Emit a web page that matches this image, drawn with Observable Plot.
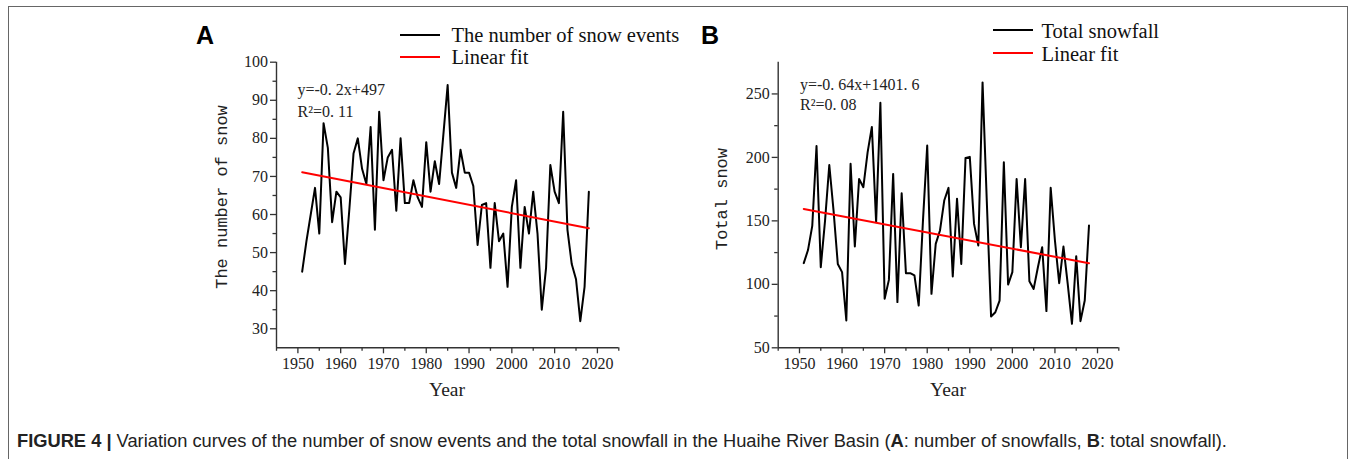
<!DOCTYPE html>
<html>
<head>
<meta charset="utf-8">
<script src="https://cdn.jsdelivr.net/npm/d3@7"></script>
<script src="https://cdn.jsdelivr.net/npm/@observablehq/plot@0.6"></script>
<style>
  html, body { margin: 0; padding: 0; background: #fff; }
  #root { position: relative; width: 1356px; height: 459px; overflow: hidden; background: #fff; }
  .abs { position: absolute; white-space: nowrap; line-height: 1; }
  .serif { font-family: "Liberation Serif", "DejaVu Serif", serif; color: #111; }
  .mono { font-family: "Liberation Mono", "DejaVu Sans Mono", monospace; color: #222; }
  .vc { transform: translateY(-50%); }
  .leg { position: absolute; height: 2px; width: 40px; }
  .panel { position: absolute; top: 0; }
</style>
</head>
<body>
<div id="root">
  <div class="abs" style="left:8px;top:6px;width:1340px;height:470px;border:1.5px solid #666;box-sizing:border-box;"></div>

  <div class="abs" style="left:196px;top:35px;transform:translateY(-50%);font:bold 25px 'Liberation Sans', Arial, sans-serif;color:#000;">A</div>
  <div class="abs" style="left:701px;top:35px;transform:translateY(-50%);font:bold 25px 'Liberation Sans', Arial, sans-serif;color:#000;">B</div>

  <div id="panelA" class="panel" style="left:200px;"></div>
  <div id="panelB" class="panel" style="left:700px;"></div>

  <!-- legends -->
  <div class="leg" style="left:400px;top:34px;background:#000;"></div>
  <div class="abs serif vc" style="left:451.5px;top:35px;font-size:20.5px;">The number of snow events</div>
  <div class="leg" style="left:400px;top:56px;background:#ff0000;"></div>
  <div class="abs serif vc" style="left:451.5px;top:57px;font-size:20.5px;">Linear fit</div>

  <div class="leg" style="left:993px;top:29px;background:#000;"></div>
  <div class="abs serif vc" style="left:1041.5px;top:31px;font-size:20.5px;">Total snowfall</div>
  <div class="leg" style="left:993px;top:52px;background:#ff0000;"></div>
  <div class="abs serif vc" style="left:1041.5px;top:54px;font-size:20.5px;">Linear fit</div>

  <!-- annotations -->
  <div class="abs serif vc" style="left:297.5px;top:90px;font-size:16px;color:#222;">y=-0. 2x+497</div>
  <div class="abs serif vc" style="left:297.5px;top:111.5px;font-size:16px;color:#222;">R²=0. 11</div>
  <div class="abs serif vc" style="left:800px;top:85px;font-size:16px;color:#222;">y=-0. 64x+1401. 6</div>
  <div class="abs serif vc" style="left:800px;top:105px;font-size:16px;color:#222;">R²=0. 08</div>

  <!-- axis titles -->
  <div class="abs mono" style="left:222px;top:197px;font-size:17px;transform:translate(-50%,-50%) rotate(-90deg);">The number of snow</div>
  <div class="abs mono" style="left:722px;top:199px;font-size:17px;transform:translate(-50%,-50%) rotate(-90deg);">Total snow</div>
  <div class="abs serif" style="left:447px;top:390px;font-size:19.5px;transform:translate(-50%,-50%);color:#222;">Year</div>
  <div class="abs serif" style="left:948px;top:390px;font-size:19.5px;transform:translate(-50%,-50%);color:#222;">Year</div>

  <!-- caption -->
  <div class="abs vc" style="left:17px;top:441px;font-family:'Liberation Sans', Arial, sans-serif;font-size:18.3px;color:#222;">
    <b>FIGURE 4 |</b> Variation curves of the number of snow events and the total snowfall in the Huaihe River Basin (<b>A</b>: number of snowfalls, <b>B</b>: total snowfall).
  </div>
</div>

<script>
// ---- data ----
const years = [1951,1952,1953,1954,1955,1956,1957,1958,1959,1960,
  1961,1962,1963,1964,1965,1966,1967,1968,1969,1970,
  1971,1972,1973,1974,1975,1976,1977,1978,1979,1980,
  1981,1982,1983,1984,1985,1986,1987,1988,1989,1990,
  1991,1992,1993,1994,1995,1996,1997,1998,1999,2000,
  2001,2002,2003,2004,2005,2006,2007,2008,2009,2010,
  2011,2012,2013,2014,2015,2016,2017,2018];

const snowEvents = [45,53,60,67,55,84,77.5,58,66,64.5,
  47,61,76,80,72,68,83,56,87,69,
  75,77,61,80,63,63,69,64.5,62,79,
  66,74,68,81,94,71,67,77,71,71,
  67.5,52,62.5,63,46,63,53,55,41,62,
  69,46,62,55,66,55,35,46,73,66,
  63,87,56,47,43,32,41,66];

const totalSnowfall = [116.7,127,146,209,113.5,150,194,158,116,109.6,
  71.5,195,129.8,183,176.5,204,224,149,243,88.6,
  103.5,187,86,171.8,108.8,108.8,107,83.3,150,209.3,
  92.5,131.9,142.4,166,176,106.2,167.5,116.1,199.6,200.4,
  147.6,130.6,259.1,165,74.6,78,87.2,196.2,99.8,109.6,
  183,129.2,183,102.4,96.4,113.5,129.3,78.9,176,134.5,
  100.9,129.8,100.4,68.9,122.2,71,87.3,146.3];

const fitYears = [1951, 2018];
const fitA = [71.1, 56.4];
const fitB = [159.4, 116.6];

const xMajor = [1950,1960,1970,1980,1990,2000,2010,2020];
const xMinor = [1945,1955,1965,1975,1985,1995,2005,2015,2025];
const yMajorA = [30,40,50,60,70,80,90,100];
const yMinorA = [35,45,55,65,75,85,95];
const yMajorB = [50,100,150,200,250];
const yMinorB = [75,125,175,225];

// ---- build tables ----
const rowsA = years.map((y, i) => ({year: y, v: snowEvents[i]}));
const rowsB = years.map((y, i) => ({year: y, v: totalSnowfall[i]}));
const fitRowsA = fitYears.map((y, i) => ({year: y, v: fitA[i]}));
const fitRowsB = fitYears.map((y, i) => ({year: y, v: fitB[i]}));

function panel(rows, fitRows, yDomain, yMaj, yMin, marginLeft) {
  return Plot.plot({
    width: 440,
    height: 410,
    marginLeft: marginLeft,
    marginRight: 21.7,
    marginTop: 61.7,
    marginBottom: 62.7,
    style: {fontFamily: "'Liberation Serif', 'DejaVu Serif', serif", fontSize: "16px", color: "#222", background: "transparent", overflow: "visible"},
    x: {domain: [1945, 2025]},
    y: {domain: yDomain},
    marks: [
      Plot.axisY(yMaj, {tickSize: 6, tickPadding: 2.5, tickFormat: d => String(d), label: null, stroke: "#333", strokeWidth: 1.3, fontSize: 16}),
      Plot.axisY(yMin, {tickSize: 3.5, tickFormat: () => "", label: null, stroke: "#333", strokeWidth: 1.3}),
      Plot.axisX(xMajor, {tickSize: 6, tickPadding: 3.5, tickFormat: d => String(d), label: null, stroke: "#333", strokeWidth: 1.3, fontSize: 16}),
      Plot.axisX(xMinor, {tickSize: 3.5, tickFormat: () => "", label: null, stroke: "#333", strokeWidth: 1.3}),
      Plot.ruleX([1945], {stroke: "#333", strokeWidth: 1.4}),
      Plot.ruleY([yDomain[0]], {stroke: "#333", strokeWidth: 1.4}),
      Plot.line(rows, {x: "year", y: "v", stroke: "#000", strokeWidth: 2}),
      Plot.line(fitRows, {x: "year", y: "v", stroke: "#ff0000", strokeWidth: 2})
    ]
  });
}

document.getElementById("panelA").appendChild(panel(rowsA, fitRowsA, [25, 100], yMajorA, yMinorA, 76));
document.getElementById("panelB").appendChild(panel(rowsB, fitRowsB, [50, 275], yMajorB, yMinorB, 77.7));
</script>
</body>
</html>
